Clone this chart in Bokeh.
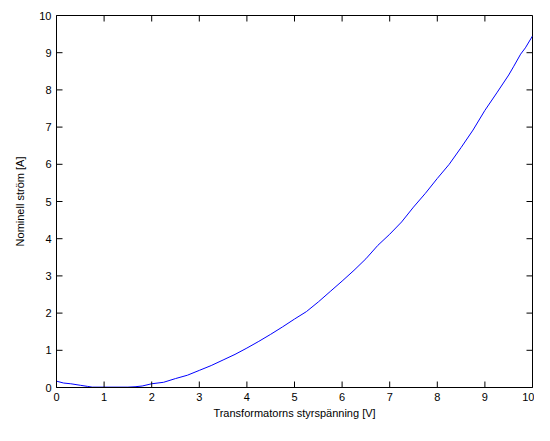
from bokeh.plotting import figure
from bokeh.models import Range1d, FixedTicker
from bokeh.embed import file_html
from bokeh.resources import INLINE

# Transformer control voltage [V] and nominal current [A]
voltage = [0.0, 0.15, 0.3, 0.5, 0.65, 0.75, 1.0, 1.25, 1.5, 1.65, 1.8, 2.0, 2.25, 2.5,
           2.75, 3.0, 3.25, 3.5, 3.75, 4.0, 4.25, 4.5, 4.75, 5.0, 5.25, 5.5, 5.75,
           6.0, 6.25, 6.5, 6.75, 7.0, 7.25, 7.5, 7.75, 8.0, 8.25, 8.5, 8.75, 9.0,
           9.25, 9.5, 9.6, 9.75, 9.85, 10.0]
current = [0.17, 0.12, 0.10, 0.06, 0.03, 0.01, 0.01, 0.01, 0.01, 0.02, 0.04, 0.10, 0.14, 0.24,
           0.33, 0.46, 0.59, 0.74, 0.89, 1.06, 1.24, 1.43, 1.63, 1.84, 2.04, 2.30, 2.58,
           2.86, 3.15, 3.46, 3.82, 4.12, 4.45, 4.85, 5.22, 5.62, 6.00, 6.45, 6.92, 7.45,
           7.92, 8.40, 8.62, 8.96, 9.13, 9.45]

x_ticks = [0, 1, 2, 3, 4, 5, 6, 7, 8, 9, 10]
y_ticks = [0, 1, 2, 3, 4, 5, 6, 7, 8, 9, 10]

FONT = "Liberation Sans"
W, H = 534, 425
LEFT, RIGHT, TOP, BOTTOM = 56, 2, 15, 38
X0, X1, Y0, Y1 = 0, 10, 0, 10
TICK_PX = 6

p = figure(width=W, height=H, output_backend="svg", toolbar_location=None,
           x_range=Range1d(X0, X1), y_range=Range1d(Y0, Y1),
           min_border_left=LEFT, min_border_right=RIGHT,
           min_border_top=TOP, min_border_bottom=BOTTOM,
           x_axis_label="Transformatorns styrspänning [V]",
           y_axis_label="Nominell ström [A]")

p.line(voltage, current, line_color="#0000ff", line_width=1)

# inward ticks on all four sides (box style)
plot_w = W - LEFT - RIGHT
plot_h = H - TOP - BOTTOM
dx = TICK_PX * (X1 - X0) / plot_w
dy = TICK_PX * (Y1 - Y0) / plot_h
n = len(x_ticks)
m = len(y_ticks)
p.segment(x0=x_ticks, y0=[Y0] * n, x1=x_ticks, y1=[Y0 + dy] * n, line_color="black", line_width=1)
p.segment(x0=x_ticks, y0=[Y1] * n, x1=x_ticks, y1=[Y1 - dy] * n, line_color="black", line_width=1)
p.segment(x0=[X0] * m, y0=y_ticks, x1=[X0 + dx] * m, y1=y_ticks, line_color="black", line_width=1)
p.segment(x0=[X1] * m, y0=y_ticks, x1=[X1 - dx] * m, y1=y_ticks, line_color="black", line_width=1)

p.grid.visible = False
p.outline_line_color = "black"
p.outline_line_width = 1
p.background_fill_color = "white"
p.border_fill_color = "white"

for ax, ticks in ((p.xaxis[0], x_ticks), (p.yaxis[0], y_ticks)):
    ax.ticker = FixedTicker(ticks=ticks)
    ax.major_tick_in = 0
    ax.major_tick_out = 0
    ax.minor_tick_line_color = None
    ax.axis_line_color = "black"
    ax.major_label_text_font = FONT
    ax.major_label_text_font_size = "11px"
    ax.major_label_text_color = "black"
    ax.axis_label_text_font = FONT
    ax.axis_label_text_font_size = "11px"
    ax.axis_label_text_font_style = "normal"
    ax.axis_label_text_color = "black"

p.xaxis[0].major_label_standoff = 5
p.xaxis[0].axis_label_standoff = 3
p.yaxis[0].major_label_standoff = 5
p.yaxis[0].axis_label_standoff = 10

open("out.html", "w").write(file_html(p, INLINE))
